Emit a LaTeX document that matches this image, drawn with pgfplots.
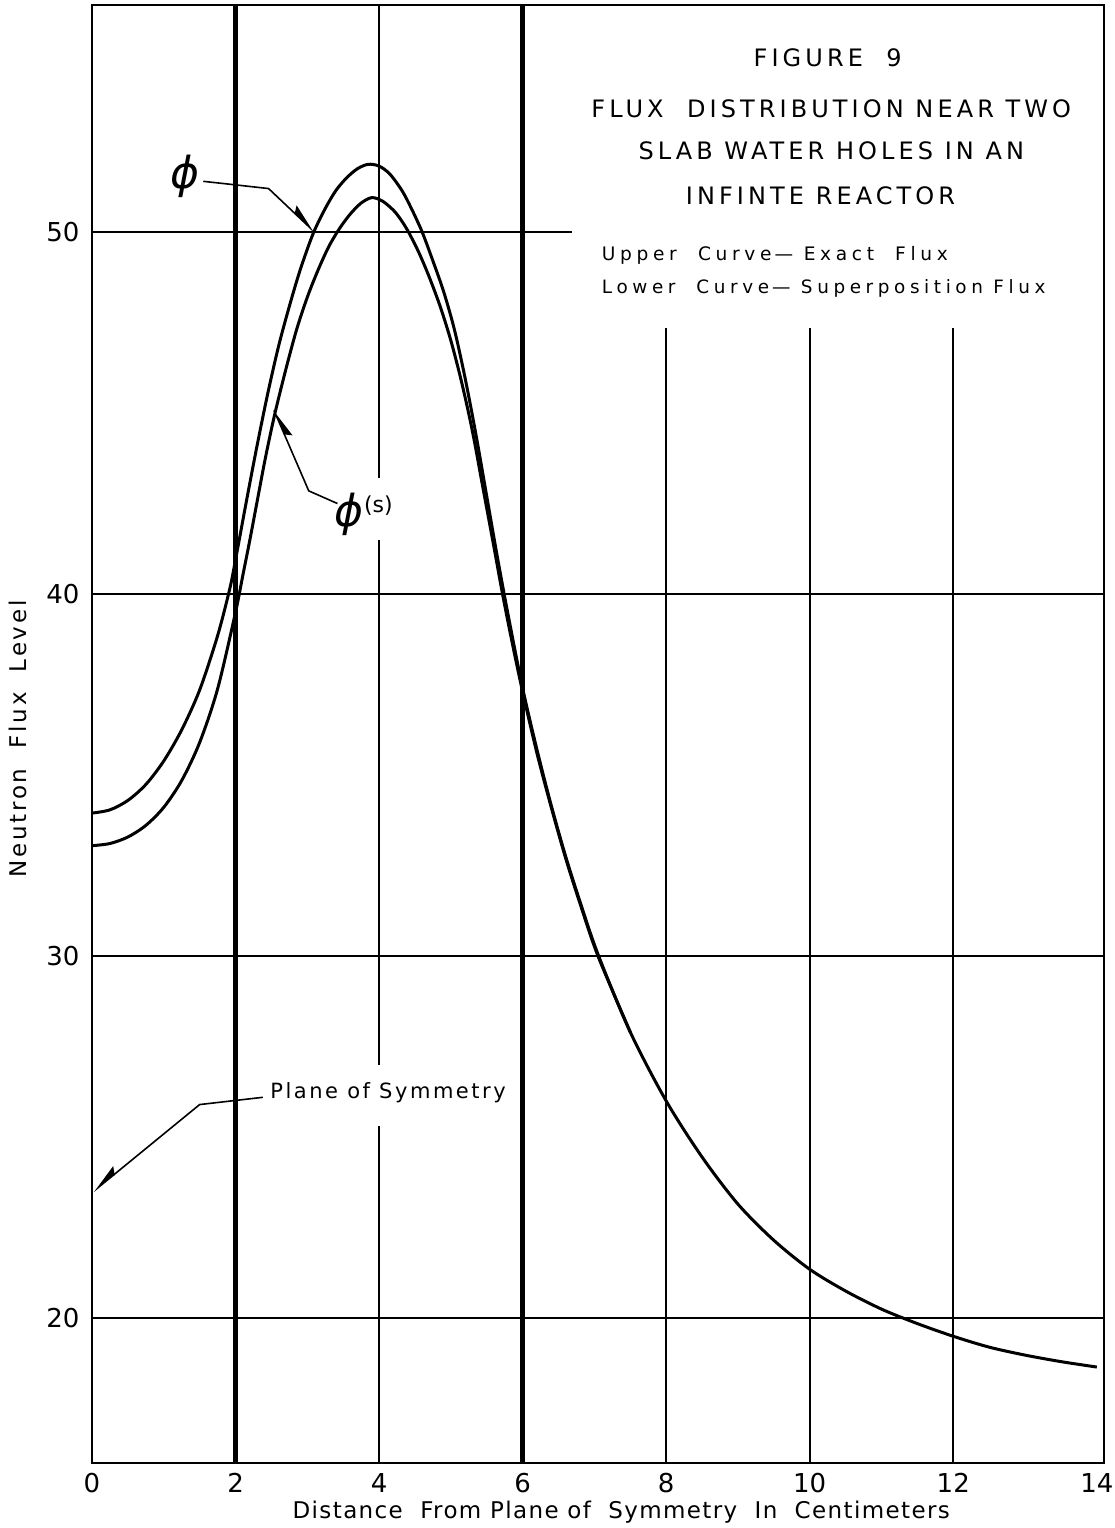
\documentclass[border=0pt]{standalone}
\usepackage{fontspec}
\setmainfont{DejaVu Sans}
\newfontfamily\titfont[LetterSpace=17]{DejaVu Sans}
\newfontfamily\legfont[LetterSpace=25]{DejaVu Sans}
\newfontfamily\plfont[LetterSpace=12]{DejaVu Sans}
\newfontfamily\xlabfont[LetterSpace=6]{DejaVu Sans}
\newfontfamily\ylabfont[LetterSpace=12]{DejaVu Sans}
\usepackage{pgfplots}
\pgfplotsset{compat=1.18}
\usetikzlibrary{arrows.meta}

\begin{document}
\begin{tikzpicture}
\begin{axis}[name=ax, scale only axis, width=506pt, height=729pt,
  xmin=0, xmax=14.1, ymin=16.0, ymax=56.27,
  xtick={0,2,...,14}, ytick={20,30,40,50},
  major tick length=0pt,
  axis line style={line width=1pt},
  tick label style={font=\fontsize{13}{13}\selectfont},
  /pgf/number format/assume math mode=true,
  xticklabel style={yshift=-1.5pt}, yticklabel style={xshift=-2.7pt},
  clip=false]

% grid lines
\draw[line width=0.8pt] (axis cs:0,50) -- (axis cs:6.69,50);
\draw[line width=0.8pt] (axis cs:0,40) -- (axis cs:14.1,40);
\draw[line width=0.8pt] (axis cs:0,30) -- (axis cs:14.1,30);
\draw[line width=0.8pt] (axis cs:0,20) -- (axis cs:14.1,20);
\draw[line width=0.8pt] (axis cs:4,16.0) -- (axis cs:4,25.3);
\draw[line width=0.8pt] (axis cs:4,27.0) -- (axis cs:4,41.5);
\draw[line width=0.8pt] (axis cs:4,43.2) -- (axis cs:4,56.27);
\draw[line width=0.8pt] (axis cs:8,16.0) -- (axis cs:8,47.35);
\draw[line width=0.8pt] (axis cs:10,16.0) -- (axis cs:10,47.35);
\draw[line width=0.8pt] (axis cs:12,16.0) -- (axis cs:12,47.35);
\draw[line width=2.2pt] (axis cs:2,16.0) -- (axis cs:2,56.27);
\draw[line width=2.2pt] (axis cs:6,16.0) -- (axis cs:6,56.27);

% exact flux (upper)
\addplot[black, line width=1.5pt, smooth] coordinates {
(0,33.95) (0.25,34.04) (0.5,34.30) (0.75,34.74) (1.0,35.39) (1.25,36.25) (1.5,37.35)
(1.75,38.85) (1.92,40.15) (2.0,40.95) (2.15,42.55) (2.3,44.1) (2.45,45.55) (2.6,46.85)
(2.75,47.95) (2.9,48.95) (3.08,49.95) (3.25,50.65) (3.4,51.15) (3.55,51.5) (3.7,51.75)
(3.85,51.87) (4.0,51.82) (4.15,51.6) (4.32,51.14) (4.45,50.65) (4.6,50.0) (4.75,49.2)
(4.9,48.35) (5.05,47.3) (5.2,45.95) (5.35,44.4) (5.5,42.7) (5.65,41.0) (5.8,39.4)
(6.0,37.4) (6.2,35.7) (6.4,34.15) (6.6,32.75) (6.8,31.5) (7.05,30.05) (7.5,27.9)
(8.0,26.0) (8.5,24.45) (9.0,23.15) (9.5,22.15) (10,21.35) (10.5,20.75) (11,20.25)
(11.5,19.85) (12,19.5) (12.5,19.2) (13,18.98) (13.5,18.8) (14,18.65)};

% superposition flux (lower)
\addplot[black, line width=1.5pt, smooth] coordinates {
(0,33.05) (0.25,33.11) (0.5,33.29) (0.75,33.61) (1.0,34.11) (1.25,34.85) (1.5,35.9)
(1.75,37.38) (2.0,39.5) (2.1,40.5) (2.2,41.5) (2.3,42.55) (2.42,43.8) (2.55,45.0)
(2.7,46.2) (2.85,47.3) (3.0,48.2) (3.15,48.95) (3.3,49.6) (3.45,50.1) (3.6,50.5)
(3.75,50.8) (3.9,50.95) (4.05,50.85) (4.2,50.6) (4.3,50.35) (4.41,50.0) (4.55,49.45)
(4.69,48.8) (4.85,47.95) (5.0,47.0) (5.15,45.85) (5.3,44.5) (5.45,42.9) (5.6,41.3)
(5.72,40.0) (5.85,38.7) (6.0,37.3) (6.2,35.6) (6.4,34.1) (6.6,32.7) (6.8,31.45)
(7.05,30.0) (7.5,27.9)};

% annotations
\node at (axis cs:1.3,51.55) {\fontsize{22}{22}\selectfont\itshape ϕ};
\draw[line width=0.8pt, -{Stealth[harpoon, length=14pt, width=7pt, inset=2pt]}]
  (axis cs:1.55,51.4) -- (axis cs:2.46,51.2) -- (axis cs:3.1,50.0);
\node[anchor=west, inner sep=0pt] at (axis cs:3.38,42.2) {\fontsize{22}{22}\selectfont\itshape ϕ\upshape\raisebox{7pt}{\fontsize{11}{11}\selectfont(s)}};
\draw[line width=0.8pt, -{Stealth[harpoon, swap, length=14pt, width=7pt, inset=2pt]}]
  (axis cs:3.42,42.5) -- (axis cs:3.02,42.85) -- (axis cs:2.53,45.1);
\node[anchor=west, inner sep=0pt] at (axis cs:2.48,26.23) {\plfont\fontsize{10.5}{11}\selectfont Plane of Symmetry};
\draw[line width=0.8pt, -{Stealth[harpoon, swap, length=14pt, width=7pt, inset=2pt]}]
  (axis cs:2.38,26.1) -- (axis cs:1.5,25.9) -- (axis cs:0.02,23.5);

\node at (axis cs:10.25,54.8) {\titfont\fontsize{12}{12}\selectfont FIGURE\ \ 9};
\node at (axis cs:10.3,53.4) {\titfont\fontsize{12}{12}\selectfont FLUX\ \ DISTRIBUTION NEAR TWO};
\node at (axis cs:10.3,52.25) {\titfont\fontsize{12}{12}\selectfont SLAB WATER HOLES IN AN};
\node at (axis cs:10.15,51.0) {\titfont\fontsize{12}{12}\selectfont INFINTE REACTOR};
\node[anchor=west, inner sep=0pt] at (axis cs:7.1,49.35) {\legfont\fontsize{9.3}{10}\selectfont Upper\ \ Curve\,—\ Exact\ \ Flux};
\node[anchor=west, inner sep=0pt] at (axis cs:7.1,48.45) {\legfont\fontsize{9.2}{10}\selectfont Lower\ \ Curve\,—\ Superposition Flux};

\node at (axis description cs:0.523,0) [yshift=-24.5pt] {\xlabfont\fontsize{11.5}{12}\selectfont Distance\ \ From Plane of\ \ Symmetry\ \ In\ \ Centimeters};
\node[xshift=-37pt, rotate=90] at (axis description cs:0,0.4966) {\ylabfont\fontsize{11.5}{12}\selectfont Neutron\ \ Flux\ \ Level};
\end{axis}
\pgfresetboundingbox
\path[use as bounding box] ([xshift=-46pt,yshift=-32.5pt]ax.south west) rectangle ([xshift=5.5pt,yshift=2.5pt]ax.north east);
\end{tikzpicture}
\end{document}
